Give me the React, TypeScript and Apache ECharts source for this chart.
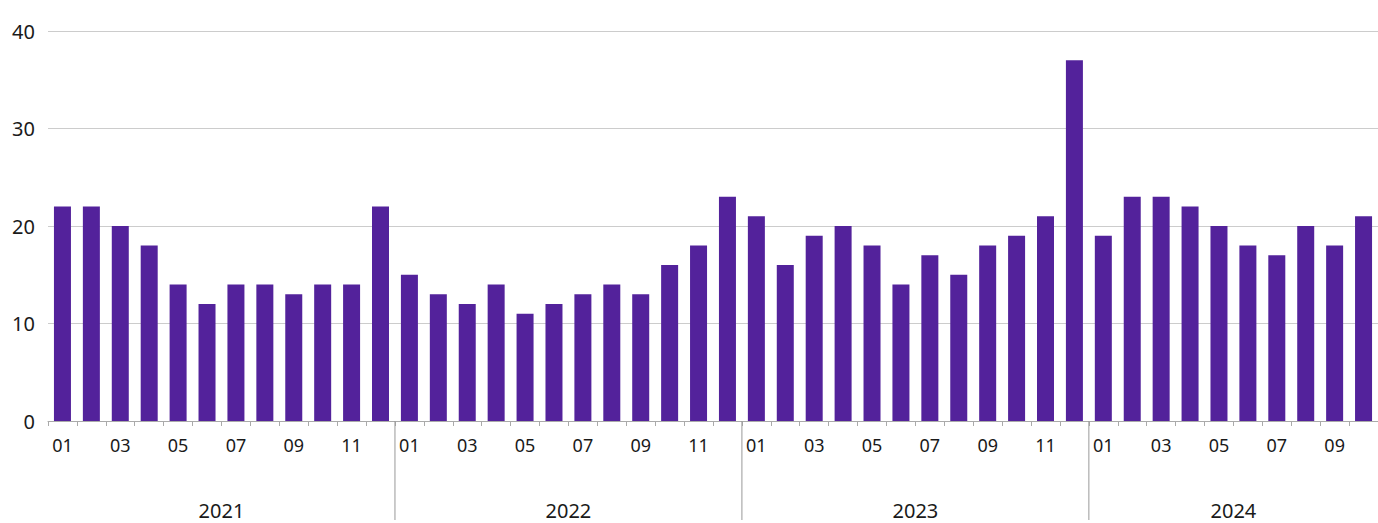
import React, { useEffect, useRef } from "react";
import * as echarts from "echarts";

const years = ["2021", "2022", "2023", "2024"];
const monthsPerYear = [12, 12, 12, 10];
const values2021 = [22, 22, 20, 18, 14, 12, 14, 14, 13, 14, 14, 22];
const values2022 = [15, 13, 12, 14, 11, 12, 13, 14, 13, 16, 18, 23];
const values2023 = [21, 16, 19, 20, 18, 14, 17, 15, 18, 19, 21, 37];
const values2024 = [19, 23, 23, 22, 20, 18, 17, 20, 18, 21];
const yTicks = [0, 10, 20, 30, 40];

const FONT = "'Noto Sans', sans-serif";

export default function App() {
  const ref = useRef<HTMLDivElement>(null);
  useEffect(() => {
    if (!ref.current) return;
    const chart = echarts.init(ref.current, null, { renderer: "svg" });
    const allValues = [...values2021, ...values2022, ...values2023, ...values2024];
    const categories: string[] = [];
    const yearStart: number[] = [];
    const yearEnd: number[] = [];
    years.forEach((y, i) => {
      yearStart.push(categories.length);
      for (let m = 1; m <= monthsPerYear[i]; m++) {
        categories.push(y + "-" + String(m).padStart(2, "0"));
      }
      yearEnd.push(categories.length - 1);
    });

    chart.setOption({
      animation: false,
      grid: { left: 48, right: 0, top: 31, bottom: 102, containLabel: false },
      xAxis: {
        type: "category",
        data: categories,
        axisLine: { show: true, lineStyle: { color: "#aaaaaa", width: 1 } },
        axisTick: { show: true, length: 5, lineStyle: { color: "#aaaaaa" }, interval: 0 },
        axisLabel: {
          interval: 0,
          margin: 15,
          fontFamily: FONT,
          fontSize: 18,
          color: "#1a1a1a",
          formatter: (v: string) => {
            const m = parseInt(v.slice(5), 10);
            return m % 2 === 1 ? v.slice(5) : "";
          },
        },
      },
      yAxis: {
        type: "value",
        min: yTicks[0],
        max: yTicks[yTicks.length - 1],
        interval: 10,
        axisLine: { show: false },
        axisTick: { show: false },
        splitLine: { lineStyle: { color: "#cccccc", width: 1 } },
        axisLabel: { fontFamily: FONT, fontSize: 20, color: "#1a1a1a", margin: 13 },
      },
      series: [
        {
          type: "bar",
          data: allValues,
          barWidth: 17,
          itemStyle: { color: "#53229B" },
        },
        {
          type: "custom",
          clip: false,
          silent: true,
          data: years.map((_, i) => [yearStart[i], 0]),
          renderItem: (params: any, api: any) => {
            const i = params.dataIndex;
            const p0 = api.coord([yearStart[i], 0]);
            const p1 = api.coord([yearEnd[i], 0]);
            const bw = api.size([1, 0])[0];
            const left = p0[0] - bw / 2;
            const right = p1[0] + bw / 2;
            const children: any[] = [
              {
                type: "text",
                style: {
                  text: years[i],
                  x: (left + right) / 2,
                  y: p0[1] + 89,
                  align: "center",
                  verticalAlign: "middle",
                  font: "20px " + FONT,
                  fill: "#1a1a1a",
                },
              },
            ];
            if (i > 0) {
              children.push({
                type: "line",
                shape: { x1: left, y1: p0[1], x2: left, y2: p0[1] + 99 },
                style: { stroke: "#999999", lineWidth: 1 },
              });
            }
            return { type: "group", children };
          },
        },
      ],
    });
    return () => chart.dispose();
  }, []);
  return (
    <div
      ref={ref}
      style={{ position: "absolute", left: 0, top: 0, width: 1378, height: 523, background: "#fff" }}
    />
  );
}
